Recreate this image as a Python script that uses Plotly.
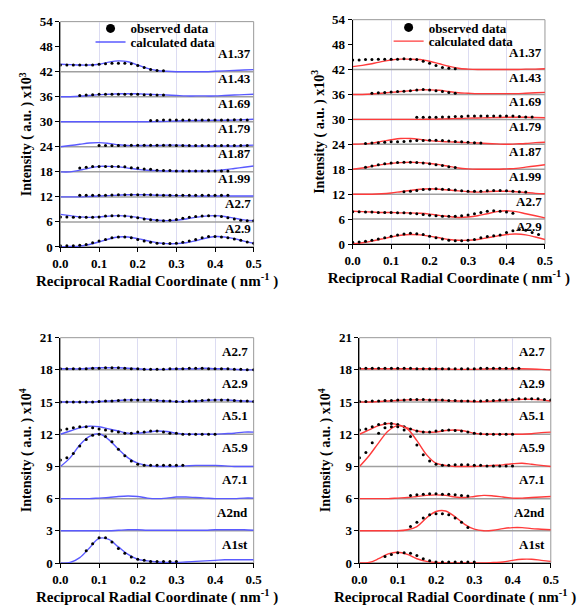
import plotly.graph_objects as go

# ---------------- data ----------------
x_calc = [0.0, 0.025, 0.05, 0.075, 0.1, 0.125, 0.15, 0.175, 0.2, 0.225, 0.25,
          0.275, 0.3, 0.325, 0.35, 0.375, 0.4, 0.425, 0.45, 0.475, 0.5]
obs_step = 0.5 / 30  # spacing of observed points

# Top-left (blue, x10^3)
tl_labels = ["A1.37", "A1.43", "A1.69", "A1.79", "A1.87", "A1.99", "A2.7", "A2.9"]
tl_bases = [42, 36, 30, 24, 18, 12, 6, 0]
tl_calc = [
    [43.8, 43.7, 43.6, 43.6, 43.8, 44.3, 44.6, 44.4, 43.6, 42.8, 42.3, 42.1, 42.0, 42.0, 42.0, 42.0, 42.1, 42.2, 42.3, 42.4, 42.5],
    [36.0, 36.0, 36.1, 36.3, 36.5, 36.6, 36.7, 36.7, 36.7, 36.6, 36.5, 36.4, 36.3, 36.2, 36.2, 36.2, 36.2, 36.3, 36.4, 36.5, 36.6],
    [30.0, 30.0, 30.0, 30.0, 30.0, 30.0, 30.0, 30.0, 30.0, 30.0, 30.05, 30.1, 30.2, 30.25, 30.3, 30.3, 30.35, 30.35, 30.4, 30.5, 30.6],
    [24.0, 24.3, 24.6, 24.9, 25.0, 24.8, 24.5, 24.3, 24.3, 24.3, 24.3, 24.4, 24.4, 24.3, 24.2, 24.2, 24.2, 24.2, 24.2, 24.3, 24.4],
    [18.0, 18.0, 18.4, 18.9, 19.3, 19.3, 19.2, 18.9, 18.6, 18.4, 18.3, 18.2, 18.2, 18.2, 18.2, 18.2, 18.3, 18.5, 18.8, 19.1, 19.4],
    [12.0, 12.0, 12.0, 12.1, 12.2, 12.3, 12.4, 12.5, 12.5, 12.5, 12.4, 12.4, 12.3, 12.3, 12.2, 12.2, 12.2, 12.2, 12.2, 12.2, 12.2],
    [7.8, 7.5, 7.2, 7.1, 7.2, 7.4, 7.5, 7.4, 7.1, 6.7, 6.4, 6.3, 6.4, 6.7, 7.1, 7.4, 7.5, 7.3, 6.9, 6.5, 6.3],
    [0.0, 0.1, 0.2, 0.6, 1.2, 1.9, 2.4, 2.4, 2.0, 1.5, 1.0, 0.8, 0.8, 1.0, 1.5, 2.1, 2.5, 2.4, 2.0, 1.4, 0.9],
]
tl_obs_start = [0, 3, 14, 6, 3, 3, 0, 0]
tl_obs = [
    [43.6, 43.6, 43.6, 43.6, 43.6, 43.6, 43.8, 43.9, 44.0, 44.0, 44.0, 43.9, 43.5, 43.0, 42.5, 42.3, 42.2],
    [36.3, 36.4, 36.5, 36.6, 36.6, 36.6, 36.6, 36.6, 36.6, 36.6, 36.5, 36.5, 36.4, 36.4],
    [30.3, 30.3, 30.4, 30.4, 30.4, 30.4, 30.4, 30.4, 30.4, 30.4, 30.4, 30.4, 30.4, 30.5, 30.5, 30.4],
    [24.3, 24.3, 24.3, 24.3, 24.3, 24.35, 24.4, 24.4, 24.4, 24.4, 24.4, 24.35, 24.3, 24.3, 24.3, 24.3, 24.3, 24.3, 24.3, 24.3, 24.3, 24.3, 24.3, 24.3],
    [18.9, 19.1, 19.3, 19.3, 19.3, 19.3, 19.3, 19.2, 19.0, 18.9, 18.7, 18.6, 18.4, 18.3, 18.3, 18.2, 18.2, 18.2, 18.2, 18.2, 18.2, 18.2, 18.2, 18.2],
    [12.4, 12.4, 12.4, 12.4, 12.4, 12.45, 12.5, 12.5, 12.5, 12.5, 12.5, 12.5, 12.45, 12.4, 12.4, 12.4, 12.4, 12.4, 12.4, 12.4, 12.4, 12.4, 12.4, 12.4],
    [7.2, 7.2, 7.1, 7.1, 7.1, 7.1, 7.2, 7.4, 7.5, 7.5, 7.4, 7.2, 7.0, 6.7, 6.5, 6.4, 6.3, 6.4, 6.6, 6.9, 7.1, 7.3, 7.4, 7.5, 7.4, 7.3, 7.0, 6.7, 6.4, 6.3, 6.3],
    [0.3, 0.3, 0.3, 0.4, 0.6, 1.0, 1.4, 1.8, 2.2, 2.4, 2.4, 2.2, 1.8, 1.4, 1.1, 0.9, 0.8, 0.8, 0.9, 1.1, 1.4, 1.8, 2.2, 2.5, 2.5, 2.4, 2.2, 1.9, 1.6, 1.2, 0.9],
]

# Top-right (red, x10^3)
tr_labels = ["A1.37", "A1.43", "A1.69", "A1.79", "A1.87", "A1.99", "A2.7", "A2.9"]
tr_bases = [42, 36, 30, 24, 18, 12, 6, 0]
tr_calc = [
    [42.7, 43.0, 43.4, 43.9, 44.3, 44.5, 44.5, 44.4, 44.0, 43.4, 42.8, 42.3, 42.1, 42.0, 42.0, 42.0, 42.0, 42.0, 42.1, 42.1, 42.2],
    [36.0, 36.0, 36.1, 36.3, 36.5, 36.7, 36.9, 37.1, 37.1, 37.0, 36.7, 36.4, 36.3, 36.2, 36.2, 36.2, 36.2, 36.2, 36.3, 36.4, 36.5],
    [30.0, 30.0, 30.0, 30.0, 30.0, 30.0, 30.0, 30.0, 30.05, 30.1, 30.15, 30.2, 30.3, 30.35, 30.4, 30.45, 30.5, 30.5, 30.5, 30.45, 30.4],
    [24.0, 24.1, 24.3, 24.7, 25.1, 25.4, 25.4, 25.2, 24.9, 24.7, 24.6, 24.5, 24.4, 24.3, 24.2, 24.1, 24.0, 24.1, 24.2, 24.4, 24.5],
    [18.0, 18.3, 18.7, 19.1, 19.4, 19.6, 19.7, 19.6, 19.4, 19.1, 18.7, 18.3, 18.1, 18.0, 18.0, 18.0, 18.1, 18.2, 18.5, 18.8, 19.1],
    [12.0, 12.0, 12.0, 12.1, 12.3, 12.6, 12.9, 13.2, 13.3, 13.2, 13.0, 12.8, 12.6, 12.5, 12.6, 12.7, 12.7, 12.6, 12.4, 12.2, 12.1],
    [7.9, 7.8, 7.7, 7.6, 7.6, 7.5, 7.5, 7.4, 7.2, 6.9, 6.6, 6.4, 6.5, 6.8, 7.3, 7.8, 8.0, 7.8, 7.3, 6.8, 6.3],
    [0.0, 0.3, 0.7, 1.2, 1.7, 2.1, 2.3, 2.2, 1.9, 1.5, 1.1, 0.9, 0.9, 1.1, 1.5, 1.9, 2.3, 2.4, 2.2, 1.7, 1.1],
]
tr_obs_start = [0, 3, 10, 2, 2, 8, 0, 0]
tr_obs = [
    [44.3, 44.3, 44.4, 44.4, 44.5, 44.5, 44.5, 44.5, 44.6, 44.5, 44.4, 44.0, 43.5, 43.0, 42.5, 42.3, 42.2],
    [36.3, 36.4, 36.5, 36.6, 36.7, 36.8, 36.9, 37.1, 37.2, 37.1, 36.9, 36.7, 36.5, 36.3],
    [30.5, 30.5, 30.5, 30.5, 30.6, 30.6, 30.7, 30.7, 30.8, 30.8, 30.8, 30.8, 30.8, 30.8, 30.8, 30.8, 30.7, 30.6, 30.6],
    [24.2, 24.3, 24.4, 24.5, 24.6, 24.6, 24.7, 24.8, 24.9, 24.9, 25.0, 25.0, 24.9, 24.8, 24.7, 24.6, 24.5, 24.4, 24.3],
    [18.5, 18.8, 19.1, 19.3, 19.5, 19.6, 19.7, 19.7, 19.6, 19.5, 19.3, 19.1, 18.9, 18.6, 18.4],
    [12.6, 12.7, 12.9, 13.1, 13.2, 13.3, 13.2, 13.1, 13.0, 12.8, 12.7, 12.7, 12.7, 12.8, 12.9, 12.9, 12.8, 12.7, 12.6, 12.5],
    [7.8, 7.8, 7.7, 7.7, 7.6, 7.6, 7.6, 7.5, 7.5, 7.4, 7.3, 7.1, 6.9, 6.8, 6.7, 6.7, 6.7, 6.8, 7.0, 7.3, 7.6, 7.9, 8.0, 7.9, 7.7, 7.4],
    [0.4, 0.5, 0.7, 0.9, 1.2, 1.5, 1.9, 2.2, 2.4, 2.6, 2.5, 2.3, 1.9, 1.5, 1.2, 0.9, 0.8, 0.8, 0.9, 1.1, 1.5, 1.8, 2.0, 2.2, 2.8, 3.2, 3.5, 3.3, 2.8, 2.3],
]

# Bottom-left (blue, x10^4)
bl_labels = ["A2.7", "A2.9", "A5.1", "A5.9", "A7.1", "A2nd", "A1st"]
bl_bases = [18, 15, 12, 9, 6, 3, 0]
bl_calc = [
    [18.1, 18.1, 18.1, 18.15, 18.2, 18.2, 18.2, 18.15, 18.1, 18.05, 18.05, 18.05, 18.1, 18.1, 18.1, 18.15, 18.1, 18.1, 18.05, 18.0, 18.0],
    [15.0, 15.0, 15.0, 15.0, 15.05, 15.1, 15.15, 15.2, 15.2, 15.2, 15.15, 15.1, 15.05, 15.05, 15.1, 15.15, 15.2, 15.2, 15.15, 15.1, 15.05],
    [12.0, 12.3, 12.6, 12.75, 12.7, 12.5, 12.3, 12.1, 12.1, 12.2, 12.3, 12.25, 12.1, 12.0, 12.0, 12.0, 12.0, 12.05, 12.1, 12.2, 12.2],
    [9.0, 9.8, 11.0, 11.8, 12.05, 11.5, 10.6, 9.8, 9.3, 9.1, 9.0, 9.0, 9.0, 9.05, 9.1, 9.1, 9.1, 9.05, 9.0, 9.0, 9.0],
    [6.0, 6.0, 6.0, 6.0, 6.05, 6.1, 6.2, 6.25, 6.2, 6.05, 6.0, 6.05, 6.15, 6.15, 6.1, 6.05, 6.0, 6.0, 6.0, 6.05, 6.05],
    [3.0, 3.0, 3.0, 3.0, 3.0, 3.0, 3.05, 3.1, 3.1, 3.05, 3.05, 3.05, 3.05, 3.05, 3.05, 3.05, 3.1, 3.1, 3.1, 3.1, 3.05],
    [0.0, 0.05, 0.5, 1.4, 2.3, 2.2, 1.5, 0.8, 0.35, 0.2, 0.1, 0.05, 0.05, 0.1, 0.15, 0.2, 0.25, 0.3, 0.3, 0.3, 0.3],
]
bl_obs_start = [0, 0, 0, 0, 0, 0, 4]
bl_obs = [
    [18.1, 18.1, 18.1, 18.1, 18.1, 18.15, 18.15, 18.2, 18.2, 18.2, 18.15, 18.1, 18.1, 18.05, 18.05, 18.05, 18.05, 18.1, 18.1, 18.1, 18.15, 18.15, 18.15, 18.1, 18.1, 18.1, 18.1, 18.05, 18.05, 18.0, 18.0],
    [15.0, 15.0, 15.0, 15.0, 15.0, 15.0, 15.05, 15.1, 15.1, 15.15, 15.2, 15.2, 15.2, 15.2, 15.2, 15.15, 15.1, 15.1, 15.05, 15.05, 15.1, 15.1, 15.15, 15.2, 15.2, 15.2, 15.2, 15.15, 15.1, 15.1, 15.05],
    [12.4, 12.5, 12.6, 12.7, 12.7, 12.6, 12.5, 12.4, 12.3, 12.2, 12.1, 12.1, 12.2, 12.2, 12.3, 12.3, 12.2, 12.1, 12.1, 12.0, 12.0, 12.0, 12.0, 12.0, 12.0],
    [9.6, 9.8, 10.2, 10.9, 11.5, 11.9, 12.0, 11.8, 11.3, 10.6, 10.0, 9.5, 9.2, 9.1, 9.1, 9.1, 9.1, 9.1, 9.1, 9.1],
    [],
    [],
    [1.15, 1.8, 2.35, 2.35, 1.95, 1.35, 0.9, 0.55, 0.35, 0.25, 0.15, 0.15, 0.15, 0.15, 0.15],
]

# Bottom-right (red, x10^4)
br_labels = ["A2.7", "A2.9", "A5.1", "A5.9", "A7.1", "A2nd", "A1st"]
br_bases = [18, 15, 12, 9, 6, 3, 0]
br_calc = [
    [18.1, 18.1, 18.1, 18.1, 18.1, 18.1, 18.1, 18.1, 18.1, 18.08, 18.05, 18.05, 18.05, 18.08, 18.1, 18.1, 18.1, 18.1, 18.08, 18.05, 18.0],
    [15.0, 15.0, 15.05, 15.1, 15.15, 15.2, 15.2, 15.2, 15.2, 15.15, 15.1, 15.1, 15.05, 15.05, 15.1, 15.15, 15.2, 15.25, 15.25, 15.2, 15.1],
    [12.0, 12.4, 12.8, 13.0, 12.9, 12.6, 12.3, 12.2, 12.2, 12.35, 12.4, 12.3, 12.1, 12.0, 12.0, 12.0, 12.0, 12.0, 12.05, 12.15, 12.2],
    [9.0, 10.0, 11.2, 12.3, 12.8, 12.5, 11.4, 10.1, 9.3, 9.1, 9.0, 9.0, 9.0, 9.05, 9.1, 9.15, 9.25, 9.3, 9.2, 9.1, 9.0],
    [6.0, 6.0, 6.0, 6.0, 6.05, 6.1, 6.2, 6.3, 6.35, 6.3, 6.15, 6.1, 6.2, 6.3, 6.25, 6.15, 6.05, 6.05, 6.1, 6.15, 6.2],
    [3.0, 3.0, 3.0, 3.0, 3.0, 3.1, 3.4, 4.2, 4.8, 4.85, 4.3, 3.6, 3.15, 3.0, 3.05, 3.2, 3.3, 3.3, 3.2, 3.15, 3.1],
    [0.0, 0.05, 0.4, 0.85, 1.0, 0.8, 0.4, 0.15, 0.05, 0.0, 0.0, 0.0, 0.0, 0.0, 0.05, 0.1, 0.25, 0.35, 0.35, 0.25, 0.15],
]
br_obs_start = [0, 0, 0, 0, 8, 8, 4]
br_obs = [
    [18.15, 18.15, 18.15, 18.15, 18.15, 18.15, 18.15, 18.15, 18.15, 18.1, 18.1, 18.1, 18.1, 18.1, 18.1, 18.1, 18.1, 18.1, 18.1, 18.15, 18.15, 18.15, 18.15, 18.15, 18.15, 18.15],
    [15.05, 15.05, 15.1, 15.1, 15.15, 15.15, 15.2, 15.2, 15.25, 15.25, 15.25, 15.2, 15.2, 15.2, 15.15, 15.15, 15.1, 15.1, 15.1, 15.1, 15.15, 15.15, 15.2, 15.2, 15.25, 15.3, 15.3, 15.3, 15.3, 15.25, 15.2],
    [12.4, 12.5, 12.7, 12.9, 13.0, 13.0, 12.9, 12.7, 12.5, 12.3, 12.2, 12.2, 12.3, 12.35, 12.4, 12.35, 12.3, 12.2, 12.1, 12.05, 12.0, 12.0, 12.0, 12.0, 12.0],
    [9.8, 10.3, 11.2, 12.1, 12.6, 12.7, 12.7, 12.4, 11.8, 11.0, 10.1, 9.5, 9.2, 9.1, 9.1, 9.15, 9.15, 9.15, 9.1, 9.1, 9.05, 9.05, 9.05, 9.05, 9.05],
    [6.3, 6.35, 6.4, 6.45, 6.45, 6.4, 6.4, 6.35, 6.3, 6.25],
    [3.4, 3.8, 4.2, 4.5, 4.6, 4.6, 4.5, 4.2, 3.8, 3.3],
    [0.6, 0.8, 0.95, 0.95, 0.9, 0.7, 0.4, 0.2, 0.1, 0.1, 0.1, 0.1, 0.1, 0.1, 0.1],
]

# ---------------- styling ----------------
W, H = 586, 611
FONT = "Liberation Serif"
BLUE = "#5a5aff"
RED = "#ff3b3b"
BASE_GRAY = "#a0a0a0"
GRID = "#dcdcf2"


def px_x(a, b):
    return [a / W, b / W]


def px_y(bottom, top):
    return [1 - bottom / H, 1 - top / H]


panels = [
    ("", px_x(54, 253), px_y(246, 15), 54, 6, "3", tl_labels, tl_bases, tl_calc, tl_obs_start, tl_obs, BLUE, 4.4, 0.497),
    ("2", px_x(355, 553), px_y(243, 13), 54, 6, "3", tr_labels, tr_bases, tr_calc, tr_obs_start, tr_obs, RED, 4.2, 0.497),
    ("3", px_x(54, 253), px_y(570, 339), 21, 3, "4", bl_labels, bl_bases, bl_calc, bl_obs_start, bl_obs, BLUE, 1.75, 0.49),
    ("4", px_x(362, 559), px_y(570, 339), 21, 3, "4", br_labels, br_bases, br_calc, br_obs_start, br_obs, RED, 1.75, 0.49),
]

fig = go.Figure()
layout = dict(
    width=W, height=H, margin=dict(l=0, r=0, t=0, b=0),
    paper_bgcolor="white", plot_bgcolor="white",
    font=dict(family=FONT, color="black"),
    showlegend=True,
)
annotations = []
shapes = []

for (sfx, xdom, ydom, ymax, dtick, expo, labels, bases, calc, obs_start, obs, color, loff, lx) in panels:
    xa = "x" + sfx
    ya = "y" + sfx
    for b in bases:
        fig.add_trace(go.Scatter(x=[0, 0.5], y=[b, b], mode="lines",
                                 line=dict(color=BASE_GRAY, width=1.5),
                                 xaxis=xa, yaxis=ya, showlegend=False, hoverinfo="skip"))
    for i, lab in enumerate(labels):
        fig.add_trace(go.Scatter(x=x_calc, y=calc[i], mode="lines",
                                 line=dict(color=color, width=1.4, shape="spline", smoothing=1.0),
                                 xaxis=xa, yaxis=ya, showlegend=False, name=lab))
        if obs[i]:
            xs = [(obs_start[i] + k) * obs_step for k in range(len(obs[i]))]
            fig.add_trace(go.Scatter(x=xs, y=obs[i], mode="markers",
                                     marker=dict(color="black", size=3, symbol="circle"),
                                     xaxis=xa, yaxis=ya, showlegend=False, name=lab))
        annotations.append(dict(x=lx, y=bases[i] + loff, xref=xa, yref=ya, text=lab,
                                showarrow=False, xanchor="right", yanchor="middle",
                                font=dict(family=FONT, size=13, weight="bold")))
    xkey = "xaxis" + sfx
    ykey = "yaxis" + sfx
    layout[xkey] = dict(
        domain=xdom, anchor=ya, range=[0, 0.5], dtick=0.1, tick0=0, tickformat=".1f",
        showgrid=True, gridcolor=GRID, gridwidth=1, zeroline=False,
        showline=True, linecolor="black", linewidth=1,
        ticks="outside", ticklen=4, tickcolor="black",
        tickfont=dict(family=FONT, size=13, weight="bold"),
        title=dict(text="Reciprocal Radial Coordinate ( nm<sup>-1</sup> )",
                   font=dict(family=FONT, size=15, weight="bold"), standoff=4),
    )
    layout[ykey] = dict(
        domain=ydom, anchor=xa, range=[0, ymax], dtick=dtick, tick0=0,
        showgrid=False, zeroline=False,
        showline=True, linecolor="black", linewidth=1,
        ticks="outside", ticklen=4, tickcolor="black",
        tickfont=dict(family=FONT, size=13, weight="bold"),
        title=dict(text="Intensity ( a.u. ) x10<sup>" + expo + "</sup>",
                   font=dict(family=FONT, size=14, weight="bold"), standoff=4),
    )
    shapes.append(dict(type="rect", xref=xa + " domain", yref=ya + " domain",
                       x0=0, x1=1, y0=0, y1=1, line=dict(color="#999999", width=1),
                       layer="below"))

legend_specs = [
    ("legend", "observed data", "obs", "black", 85, 22),
    ("legend2", "calculated data", "calc", BLUE, 85, 36),
    ("legend3", "observed data", "obs", "black", 392, 21),
    ("legend4", "calculated data", "calc", RED, 392, 35),
]
for lg, name, kind, col, lx0, ly0 in legend_specs:
    if kind == "obs":
        tr = go.Scatter(x=[None], y=[None], mode="markers", name=name,
                        marker=dict(color=col, size=9, symbol="circle"), legend=lg)
    else:
        tr = go.Scatter(x=[None], y=[None], mode="lines", name=name,
                        line=dict(color=col, width=1.4), legend=lg)
    fig.add_trace(tr)
    layout[lg] = dict(x=lx0 / W, y=1 - ly0 / H, xanchor="left", yanchor="middle",
                      bgcolor="rgba(0,0,0,0)", borderwidth=0,
                      font=dict(family=FONT, size=13, weight="bold"))

layout["annotations"] = annotations
layout["shapes"] = shapes
fig.update_layout(**layout)

fig.write_html("out.html", config={"displayModeBar": False},
               post_script="document.body.style.margin='0';")
